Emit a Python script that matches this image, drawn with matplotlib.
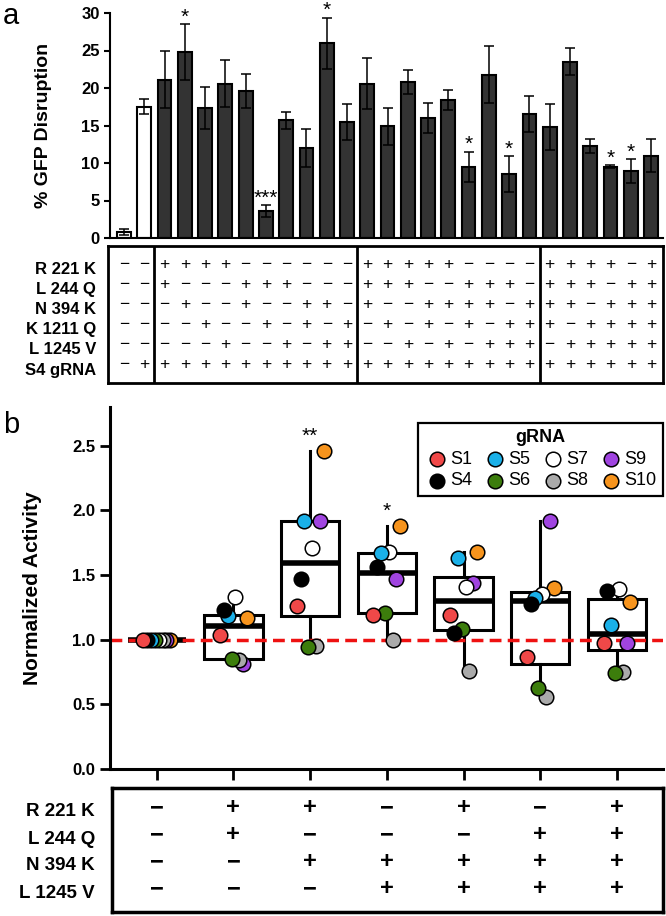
import numpy as np
import matplotlib
matplotlib.use('Agg')
import matplotlib.pyplot as plt

plt.rcParams['font.family'] = ['Liberation Sans', 'DejaVu Sans']

# ---- panel a data ----
gfp_mean = [0.8, 17.5, 21.1, 24.8, 17.3, 20.6, 19.6, 3.6, 15.7, 12.0, 26.0,
            15.5, 20.6, 14.9, 20.8, 16.0, 18.4, 9.5, 21.8, 8.5, 16.5,
            14.8, 23.5, 12.3, 9.5, 8.9, 11.0]
gfp_err = [0.4, 1.0, 3.8, 3.7, 2.8, 3.1, 2.3, 0.75, 1.1, 2.5, 3.4,
           2.4, 3.4, 2.5, 1.6, 2.0, 1.3, 2.0, 3.8, 2.4, 2.4,
           3.1, 1.8, 0.9, 0.2, 1.6, 2.2]
gfp_sig = ['', '', '', '*', '', '', '', '***', '', '', '*',
           '', '', '', '', '', '', '*', '', '*', '',
           '', '', '', '*', '*', '']
mut_labels_a = ['R 221 K', 'L 244 Q', 'N 394 K', 'K 1211 Q', 'L 1245 V', 'S4 gRNA']
mut_table_a = [
    '--' + '++++------' + '+++++----' + '++++-+',
    '--' + '+---+++---' + '+++--+++-' + '+++-++',
    '--' + '-+--+--++-' + '+--++++-+' + '++-+++',
    '--' + '--+--+-+-+' + '-+-+-+-++' + '+-++++',
    '--' + '---+--+-++' + '--+-+-+++' + '-+++++',
    '-+' + '++++++++++' + '+++++++++' + '++++++',
]

# ---- panel b data ----
grna_names = ['S1', 'S4', 'S5', 'S6', 'S7', 'S8', 'S9', 'S10']
grna_colors = ['#F04848', '#000000', '#1AB0E8', '#3C7D0C', '#FFFFFF',
               '#AAAAAA', '#A044E0', '#F7941D']
activity = [
    [1.0, 1.04, 1.26, 1.19, 1.19, 0.87, 0.975],   # S1
    [1.0, 1.23, 1.47, 1.56, 1.05, 1.28, 1.38],    # S4
    [1.0, 1.18, 1.92, 1.67, 1.635, 1.32, 1.115],  # S5
    [1.0, 0.85, 0.94, 1.21, 1.08, 0.63, 0.745],   # S6
    [1.0, 1.33, 1.71, 1.68, 1.41, 1.355, 1.39],   # S7
    [1.0, 0.84, 0.95, 1.0, 0.76, 0.56, 0.75],     # S8
    [1.0, 0.81, 1.92, 1.47, 1.44, 1.92, 0.975],   # S9
    [1.0, 1.17, 2.46, 1.88, 1.68, 1.40, 1.29],    # S10
]
act_sig = ['', '', '**', '*', '', '', '']
mut_labels_b = ['R 221 K', 'L 244 Q', 'N 394 K', 'L 1245 V']
mut_table_b = ['-++-+-+', '-+---++', '--+++++', '---++++']

W, H = 666, 916


def px_box(l, t, r, b):
    return [l / W, 1 - b / H, (r - l) / W, (b - t) / H]


def sign(ch):
    return '+' if ch == '+' else '\u2212'


fig = plt.figure(figsize=(W / 100, H / 100), dpi=100)

# ---------------- panel a ----------------
ax = fig.add_axes(px_box(110, 13, 663, 238))
x = np.arange(len(gfp_mean))
colors = ['white' if i < 2 else '#333333' for i in x]
ax.bar(x, gfp_mean, width=0.68, color=colors, edgecolor='black', linewidth=1.5, zorder=2)
ax.errorbar(x, gfp_mean, yerr=gfp_err, fmt='none', ecolor='black', elinewidth=1.1,
            capsize=3.5, capthick=1.1, zorder=3)
for xi, m, e, s in zip(x, gfp_mean, gfp_err, gfp_sig):
    if s:
        ax.text(xi, m + e - 0.3, s, ha='center', va='bottom', fontsize=15)
ax.set_xlim(-0.69, 26.59)
ax.set_ylim(0, 30)
ax.set_yticks(range(0, 31, 5))
ax.set_xticks([])
for sp in ['top', 'right']:
    ax.spines[sp].set_visible(False)
for sp in ['left', 'bottom']:
    ax.spines[sp].set_linewidth(1.5)
ax.tick_params(axis='y', length=4, width=1.5, labelsize=12)
for lab in ax.get_yticklabels():
    lab.set_fontweight('bold')
ax.set_ylabel('% GFP Disruption', fontsize=14, fontweight='bold')
ax.yaxis.set_label_coords(-(110 - 52) / 553, 0.5)

# table a
tax = fig.add_axes(px_box(108, 246, 663, 383))
tax.set_xlim((108 - 124) / 20.27, 26.59)
tax.set_ylim(383, 246)
tax.set_xticks([])
tax.set_yticks([])
for sp in tax.spines.values():
    sp.set_linewidth(2)
for sep in [1.5, 11.5, 20.5]:
    tax.axvline(sep, color='black', lw=2)
for r, (label, signs) in enumerate(zip(mut_labels_a, mut_table_a)):
    y_sym = 264 + 20.2 * r
    for i, ch in enumerate(signs):
        tax.text(i, y_sym, sign(ch), ha='center', va='center', fontsize=12.5)
    fig.text(96 / W, 1 - (y_sym + 5) / H, label, ha='right', va='center',
             fontsize=12, fontweight='bold')

# ---------------- panel b ----------------
bx = fig.add_axes(px_box(110, 407, 663, 769))
by_group = np.array(activity).T
pos = np.arange(by_group.shape[0])
bx.boxplot(list(by_group), positions=pos, widths=0.76, showfliers=False, showcaps=False,
           patch_artist=True,
           boxprops=dict(facecolor='white', edgecolor='black', linewidth=2.2),
           medianprops=dict(color='black', linewidth=4),
           whiskerprops=dict(color='black', linewidth=2.2), zorder=1)
bx.axhline(1.0, color='#EE1111', linestyle=(0, (3.4, 1.8)), lw=2.5, zorder=2)
offsets = np.linspace(-0.175, 0.175, len(grna_names))
for k, (name, vals, col) in enumerate(zip(grna_names, activity, grna_colors)):
    bx.scatter(pos + offsets[k], vals, s=110, c=col, edgecolors='black',
               linewidths=1.1, zorder=20 - k, label=name)
for i, s in enumerate(act_sig):
    if s:
        bx.text(i, max(by_group[i]) + 0.04, s, ha='center', va='bottom', fontsize=15)
bx.set_xlim(-0.61, 6.6)
bx.set_ylim(0, 2.8)
bx.set_yticks(np.arange(0, 2.51, 0.5))
bx.set_yticklabels(['%.1f' % v for v in np.arange(0, 2.51, 0.5)], fontweight='bold')
bx.set_xticks(pos)
bx.set_xticklabels([])
for sp in ['top', 'right']:
    bx.spines[sp].set_visible(False)
for sp in ['left', 'bottom']:
    bx.spines[sp].set_linewidth(2.2)
bx.tick_params(axis='y', length=7, width=2, labelsize=12)
bx.tick_params(axis='x', length=8, width=2)
bx.set_ylabel('Normalized Activity', fontsize=15, fontweight='bold')
bx.yaxis.set_label_coords(-(110 - 42) / 553, 0.5)
leg = bx.legend(ncol=4, title='gRNA', loc='upper right', bbox_to_anchor=(1.0, 1 - 16 / 362),
                frameon=True, fancybox=False, edgecolor='black', framealpha=1, fontsize=13,
                title_fontproperties={'weight': 'bold', 'size': 13}, handletextpad=0.05,
                handlelength=1.4, columnspacing=0.55, borderpad=0.35, labelspacing=0.25,
                borderaxespad=0)
leg.get_frame().set_linewidth(1.6)
leg.get_title().set_color('black')

# table b
tbx = fig.add_axes(px_box(112, 788, 663, 912))
tbx.set_xlim((112 - 156.7) / 76.7, 6.6)
tbx.set_ylim(912, 788)
tbx.set_xticks([])
tbx.set_yticks([])
for sp in tbx.spines.values():
    sp.set_linewidth(2.5)
for r, (label, signs) in enumerate(zip(mut_labels_b, mut_table_b)):
    y_sym = 808 + 27 * r
    for i, ch in enumerate(signs):
        tbx.text(i, y_sym, sign(ch), ha='center', va='center', fontsize=17, fontweight='bold')
    fig.text(95 / W, 1 - (y_sym + 4) / H, label, ha='right', va='center',
             fontsize=13.5, fontweight='bold')

fig.text(3 / W, 1 - 2 / H, 'a', fontsize=21, va='top', ha='left')
fig.text(3 / W, 1 - 411 / H, 'b', fontsize=21, va='top', ha='left')

fig.savefig('out.png', dpi=100)
